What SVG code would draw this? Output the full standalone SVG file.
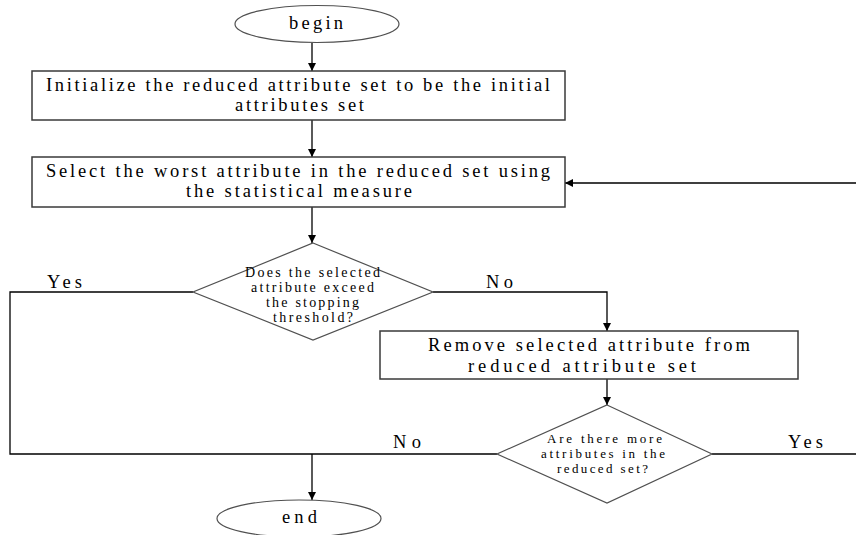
<svg xmlns="http://www.w3.org/2000/svg" width="856" height="535" viewBox="0 0 856 535">
<style>
  .shape { fill: #ffffff; stroke: #3a3a3a; stroke-width: 1.5; }
  .dia { fill: #ffffff; stroke: #505050; stroke-width: 1.2; }
  .conn { fill: none; stroke: #000000; stroke-width: 1.3; }
  .t { font-family: "Liberation Serif", "Times New Roman", serif; font-size: 18.5px; fill: #000000; }
  .s { font-family: "Liberation Serif", "Times New Roman", serif; font-size: 14px; fill: #000000; }
  .s2 { font-family: "Liberation Serif", "Times New Roman", serif; font-size: 13px; fill: #000000; }
</style>
<defs>
  <marker id="arrow" markerUnits="userSpaceOnUse" markerWidth="9" markerHeight="8" refX="8" refY="4" orient="auto">
    <path d="M0,0 L8,4 L0,8 z" fill="#000000"/>
  </marker>
</defs>
<rect width="856" height="535" fill="#ffffff"/>

<g id="connectors">
  <line class="conn" x1="312" y1="43" x2="312" y2="71" marker-end="url(#arrow)"/>
  <line class="conn" x1="312" y1="120" x2="312" y2="157" marker-end="url(#arrow)"/>
  <line class="conn" x1="312" y1="207" x2="312" y2="243" marker-end="url(#arrow)"/>
  <polyline class="conn" points="193,292 10,292 10,454 497,454"/>
  <polyline class="conn" points="433,292 607,292 607,331" marker-end="url(#arrow)"/>
  <line class="conn" x1="607" y1="379" x2="607" y2="405" marker-end="url(#arrow)"/>
  <polyline class="conn" points="712,454 870,454 870,183 565,183" marker-end="url(#arrow)"/>
  <line class="conn" x1="312" y1="454" x2="312" y2="500" marker-end="url(#arrow)"/>
  <text class="t" x="47" y="288" textLength="35" lengthAdjust="spacing">Yes</text>
  <text class="t" x="486" y="288" textLength="27" lengthAdjust="spacing">No</text>
  <text class="t" x="393" y="448" textLength="28" lengthAdjust="spacing">No</text>
  <text class="t" x="788" y="448" textLength="35" lengthAdjust="spacing">Yes</text>
</g>

<g id="begin">
  <ellipse class="dia" cx="317" cy="24" rx="82" ry="18.5"/>
  <text class="t" x="289" y="29" textLength="54" lengthAdjust="spacing">begin</text>
</g>

<g id="init">
  <rect class="shape" x="32" y="71" width="533" height="49"/>
  <text class="t" x="46" y="91" textLength="504" lengthAdjust="spacing">Initialize the reduced attribute set to be the initial</text>
  <text class="t" x="235" y="111" textLength="129" lengthAdjust="spacing">attributes set</text>
</g>

<g id="select">
  <rect class="shape" x="32" y="157" width="533" height="50"/>
  <text class="t" x="46" y="177" textLength="504" lengthAdjust="spacing">Select the worst attribute in the reduced set using</text>
  <text class="t" x="186" y="197" textLength="226" lengthAdjust="spacing">the statistical measure</text>
</g>

<g id="decision-threshold">
  <polygon class="dia" points="313,243 433,292 313,340 193,292"/>
  <text class="s" x="245" y="277" textLength="135" lengthAdjust="spacing">Does the selected</text>
  <text class="s" x="251" y="292" textLength="123" lengthAdjust="spacing">attribute exceed</text>
  <text class="s" x="266" y="307" textLength="93" lengthAdjust="spacing">the stopping</text>
  <text class="s" x="273" y="322" textLength="80" lengthAdjust="spacing">threshold?</text>
</g>

<g id="remove">
  <rect class="shape" x="380" y="331" width="418" height="48"/>
  <text class="t" x="428" y="351" textLength="322" lengthAdjust="spacing">Remove selected attribute from</text>
  <text class="t" x="468" y="372" textLength="228" lengthAdjust="spacing">reduced attribute set</text>
</g>

<g id="decision-more">
  <polygon class="dia" points="607,405 712,454 607,503 497,454"/>
  <text class="s2" x="547" y="443" textLength="115" lengthAdjust="spacing">Are there more</text>
  <text class="s2" x="541" y="458" textLength="124" lengthAdjust="spacing">attributes in the</text>
  <text class="s2" x="557" y="473" textLength="91" lengthAdjust="spacing">reduced set?</text>
</g>

<g id="end">
  <ellipse class="dia" cx="299" cy="518.5" rx="82" ry="18.5"/>
  <text class="t" x="282" y="523" textLength="35" lengthAdjust="spacing">end</text>
</g>
</svg>
